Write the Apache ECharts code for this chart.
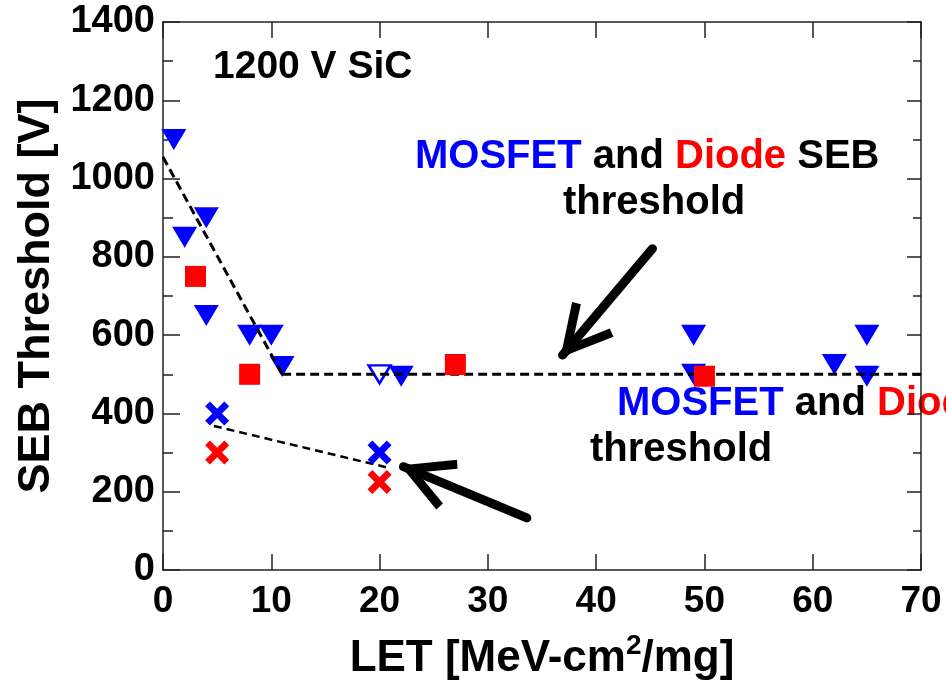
<!DOCTYPE html>
<html>
<head>
<meta charset="utf-8">
<script src="https://cdn.jsdelivr.net/npm/echarts@6/dist/echarts.min.js"></script>
<style>
  html, body { margin: 0; padding: 0; background: #fff; }
  #chart { width: 946px; height: 686px; }
</style>
</head>
<body>
<div id="chart"></div>
<script>
// MOSFET, filled down triangles
const mosfetLet = [1, 2, 4, 4, 8, 10, 11, 22, 49, 49, 62, 65, 65]
const mosfetV = [1100, 850, 900, 650, 600, 600, 520, 495, 600, 500, 525, 600, 495]
// MOSFET, open triangle
const mosfetOpenLet = [20]
const mosfetOpenV = [500]
// Diode, filled squares
const diodeLet = [3, 8, 27, 50]
const diodeV = [750, 500, 525, 495]
// crosses
const mosfetCrossLet = [5, 20]
const mosfetCrossV = [400, 300]
const diodeCrossLet = [5, 20]
const diodeCrossV = [300, 225]
// dashed guide lines
const steepFit = [[0, 1055], [11, 500]]
const flatFit = [[11, 500], [70, 500]]
const lowFit = [[4.7, 368], [20.7, 262]]
// arrows: [tail, tip]
const upperArrow = [[45.2, 821], [36.9, 549]]
const lowerArrow = [[33.6, 133], [22.2, 264]]
const yTicks = [0, 200, 400, 600, 800, 1000, 1200, 1400]
const xTicks = [0, 10, 20, 30, 40, 50, 60, 70]

const BLUE = '#0000ff'
const RED = '#ff0000'
const SANS = "'Liberation Sans', Arial, sans-serif"
const CROSS = 'path://M0,2 L2,0 L5,3 L8,0 L10,2 L7,5 L10,8 L8,10 L5,7 L2,10 L0,8 L3,5 Z'
const CHEVRON = 'path://M20,0 L40,38 L34,41 L20,14 L6,41 L0,38 Z'

const zip = (xs, ys) => xs.map((x, i) => [x, ys[i]])

const chart = echarts.init(document.getElementById('chart'))

const frameLine = { show: true, onZero: false, lineStyle: { color: '#222', width: 1.5 } }
const bold40 = "bold 40px 'Liberation Sans', Arial, sans-serif"

const option = {
  animation: false,
  backgroundColor: '#fff',
  grid: { left: 163, right: 25, top: 22, bottom: 108 },
  xAxis: [
    {
      type: 'value',
      min: 0, max: 70, interval: 10,
      axisLine: frameLine,
      axisTick: { show: true, inside: true, length: 16, lineStyle: { color: '#222', width: 1.5 } },
      splitLine: { show: false },
      axisLabel: {
        color: '#000', fontFamily: SANS, fontWeight: 'bold', fontSize: 37, margin: 13,
        formatter: v => xTicks.includes(v) ? String(v) : ''
      },
      name: '{t|LET [MeV-cm}{s|2}{t|/mg]}',
      nameLocation: 'middle',
      nameGap: 62,
      nameTextStyle: {
        rich: {
          t: { fontFamily: SANS, fontWeight: 'bold', fontSize: 44, color: '#000' },
          s: { fontFamily: SANS, fontWeight: 'bold', fontSize: 28, color: '#000', verticalAlign: 'top', padding: [0, 0, 26, 0] }
        }
      }
    },
    {
      type: 'value', position: 'top',
      min: 0, max: 70, interval: 10,
      axisLine: frameLine,
      axisTick: { show: true, inside: true, length: 16, lineStyle: { color: '#222', width: 1.5 } },
      axisLabel: { show: false },
      splitLine: { show: false }
    }
  ],
  yAxis: [
    {
      type: 'value',
      min: 0, max: 1400, interval: 200,
      axisLine: frameLine,
      axisTick: { show: true, inside: true, length: 17, lineStyle: { color: '#222', width: 1.5 } },
      minorTick: { show: true, splitNumber: 2, length: 10, lineStyle: { color: '#222', width: 1.5 } },
      splitLine: { show: false },
      axisLabel: {
        color: '#000', fontFamily: SANS, fontWeight: 'bold', fontSize: 38, margin: 8,
        formatter: v => yTicks.includes(v) ? String(v) : ''
      },
      name: 'SEB Threshold [V]',
      nameLocation: 'middle',
      nameGap: 104,
      nameTextStyle: { fontFamily: SANS, fontWeight: 'bold', fontSize: 45, color: '#000' }
    },
    {
      type: 'value', position: 'right',
      min: 0, max: 1400, interval: 200,
      axisLine: frameLine,
      axisTick: { show: true, inside: true, length: 14, lineStyle: { color: '#222', width: 1.5 } },
      minorTick: { show: true, splitNumber: 2, length: 8, lineStyle: { color: '#222', width: 1.5 } },
      axisLabel: { show: false },
      splitLine: { show: false }
    }
  ],
  series: [
    {
      name: 'MOSFET',
      type: 'scatter',
      data: zip(mosfetLet, mosfetV),
      symbol: 'triangle',
      symbolRotate: 180,
      symbolSize: [25, 21],
      itemStyle: { color: BLUE, opacity: 1 },
      z: 2
    },
    {
      name: 'MOSFET open',
      type: 'scatter',
      data: zip(mosfetOpenLet, mosfetOpenV),
      symbol: 'triangle',
      symbolRotate: 180,
      symbolSize: [22, 18],
      itemStyle: { color: '#fff', borderColor: BLUE, borderWidth: 2.5, opacity: 1 },
      z: 2
    },
    {
      name: 'steep',
      type: 'line',
      data: steepFit,
      symbol: 'none',
      lineStyle: { color: '#000', width: 3, type: [9, 5] },
      z: 3
    },
    {
      name: 'flat',
      type: 'line',
      data: flatFit,
      symbol: 'none',
      lineStyle: { color: '#000', width: 3, type: [9, 5] },
      z: 3,
      markLine: {
        silent: true,
        symbol: ['none', CHEVRON],
        symbolSize: 54,
        symbolOffset: [0, ['0%', '44%']],
        label: { show: false },
        lineStyle: { color: '#000', width: 9, type: 'solid', cap: 'round' },
        data: [
          [{ coord: upperArrow[0] }, { coord: upperArrow[1] }],
          [{ coord: lowerArrow[0] }, { coord: lowerArrow[1] }]
        ]
      }
    },
    {
      name: 'low',
      type: 'line',
      data: lowFit,
      symbol: 'none',
      lineStyle: { color: '#000', width: 2.5, type: [8, 5] },
      z: 3
    },
    {
      name: 'Diode',
      type: 'scatter',
      data: zip(diodeLet, diodeV),
      symbol: 'rect',
      symbolSize: 21,
      itemStyle: { color: RED, opacity: 1 },
      z: 4
    },
    {
      name: 'MOSFET x',
      type: 'scatter',
      data: zip(mosfetCrossLet, mosfetCrossV),
      symbol: CROSS,
      symbolSize: 24,
      itemStyle: { color: BLUE, opacity: 1 },
      z: 4
    },
    {
      name: 'Diode x',
      type: 'scatter',
      data: zip(diodeCrossLet, diodeCrossV),
      symbol: CROSS,
      symbolSize: 24,
      itemStyle: { color: RED, opacity: 1 },
      z: 4
    }
  ],
  graphic: [
    {
      type: 'text', left: 213, top: 48,
      style: { text: '1200 V SiC', font: "bold 39px 'Liberation Sans', Arial, sans-serif", fill: '#000' }
    },
    {
      type: 'text', left: 415, top: 137,
      style: {
        text: '{b|MOSFET }{k|and }{r|Diode }{k|SEB}',
        rich: {
          b: { font: bold40, fill: BLUE },
          r: { font: bold40, fill: RED },
          k: { font: bold40, fill: '#000' }
        }
      }
    },
    {
      type: 'text', left: 563, top: 183,
      style: { text: 'threshold', font: bold40, fill: '#000' }
    },
    {
      type: 'text', left: 617, top: 384,
      style: {
        text: '{b|MOSFET }{k|and }{r|Diode }{k|SEB}',
        rich: {
          b: { font: bold40, fill: BLUE },
          r: { font: bold40, fill: RED },
          k: { font: bold40, fill: '#000' }
        }
      }
    },
    {
      type: 'text', left: 590, top: 430,
      style: { text: 'threshold', font: bold40, fill: '#000' }
    }
  ]
}

chart.setOption(option)
window.addEventListener('resize', () => chart.resize())
</script>
</body>
</html>
